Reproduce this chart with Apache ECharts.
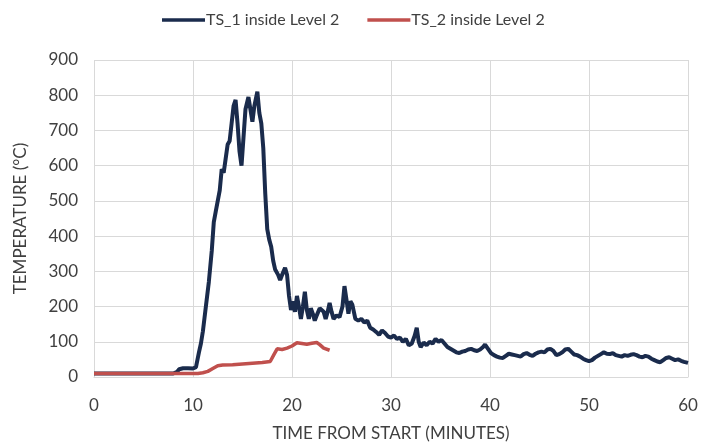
<!DOCTYPE html>
<html><head><meta charset="utf-8">
<script src="https://cdn.jsdelivr.net/npm/echarts@6/dist/echarts.min.js"></script>
<style>html,body{margin:0;padding:0;background:#fff}#c{width:703px;height:443px}</style>
</head><body><div id="c"></div>
<script>
const seriesNames = ["TS_1 inside Level 2", "TS_2 inside Level 2"];
const xTicks = [0, 10, 20, 30, 40, 50, 60];
const yTicks = [0, 100, 200, 300, 400, 500, 600, 700, 800, 900];

const ts1Time = [0,8.0,8.4,8.6,9.0,9.5,10.0,10.3,10.6,10.8,11.0,11.3,11.6,11.9,12.1,12.3,12.5,12.7,12.9,13.1,13.3,13.5,13.7,13.9,14.1,14.3,14.5,14.7,14.9,15.1,15.3,15.6,15.8,16.0,16.2,16.5,16.7,16.9,17.1,17.3,17.5,17.7,17.9,18.1,18.3,18.6,18.8,19.0,19.3,19.5,19.7,19.9,20.1,20.3,20.5,20.7,20.9,21.1,21.3,21.5,21.7,21.9,22.1,22.3,22.5,22.8,23.0,23.2,23.4,23.6,23.8,24.0,24.2,24.5,24.8,25.1,25.3,25.5,25.7,25.9,26.1,26.4,26.7,27.0,27.3,27.6,27.9,28.2,28.5,28.8,29.1,29.4,29.7,30.0,30.3,30.6,30.9,31.2,31.5,31.8,32.1,32.4,32.6,32.8,33.0,33.3,33.6,33.9,34.2,34.5,34.8,35.1,35.4,35.7,36.0,36.3,36.6,36.9,37.2,37.5,37.8,38.1,38.4,38.7,39.0,39.3,39.5,39.8,40.1,40.4,40.7,41.0,41.3,41.6,41.9,42.2,42.5,42.8,43.1,43.4,43.7,44.0,44.3,44.6,44.9,45.2,45.5,45.8,46.1,46.4,46.7,47.0,47.3,47.6,47.9,48.2,48.5,48.8,49.1,49.4,49.7,50.0,50.3,50.6,50.9,51.2,51.5,51.8,52.1,52.4,52.7,53.0,53.3,53.6,53.9,54.2,54.5,54.8,55.1,55.4,55.7,56.0,56.3,56.6,56.9,57.2,57.5,57.8,58.1,58.4,58.7,59.0,59.3,59.6,60.0];
const ts1Temp = [10,10,15,22,25,25,24,28,70,95,130,200,270,360,440,470,465,530,590,580,620,660,670,720,770,787,720,640,600,680,760,795,760,725,770,810,750,720,650,520,420,390,370,330,305,290,275,290,310,290,230,190,215,185,230,200,165,200,242,190,165,195,180,160,175,195,200,185,165,185,210,185,165,175,170,200,258,220,180,215,205,165,160,165,155,160,140,135,128,120,132,125,115,112,118,108,112,100,108,90,95,118,140,100,85,98,90,100,95,108,100,105,95,85,80,75,70,68,72,74,78,80,76,74,78,85,92,80,68,62,58,55,54,60,66,64,62,60,58,65,68,63,60,66,70,72,70,78,80,74,62,65,70,78,80,72,64,62,58,52,48,45,48,55,60,65,70,66,65,68,62,60,58,62,60,63,65,62,58,56,60,58,52,48,44,42,48,54,56,52,48,50,46,43,40];

const ts2Time = [0,10.5,11.0,11.5,12.0,12.5,13.0,14.0,15.0,16.0,17.0,17.8,18.2,18.5,19.0,19.5,20.0,20.5,21.0,21.5,22.0,22.5,22.8,23.2,23.8];
const ts2Temp = [10,10,12,16,24,32,34,35,37,39,41,44,65,80,78,82,88,97,95,93,96,98,92,82,76];

const pair = (t, v) => t.map((x, i) => [x, v[i]]);
const font = 'Lato';
const axisText = {color: '#404040', fontSize: 17, fontFamily: font};

const chart = echarts.init(document.getElementById('c'));
chart.setOption({
  animation: false,
  legend: {
    top: 7, left: 157, itemWidth: 43, itemHeight: 10, itemGap: 28,
    textStyle: {color: '#404040', fontSize: 16, fontFamily: font, padding: [0, 0, 0, -4]},
    data: seriesNames.map(n => ({name: n, icon: 'path://M0,3.2 L43,3.2 L43,6.8 L0,6.8 Z'}))
  },
  grid: {left: 94, right: 15, top: 60, bottom: 66, containLabel: false, outerBoundsMode: 'none'},
  xAxis: {
    type: 'value', min: xTicks[0], max: xTicks[xTicks.length - 1], interval: 10,
    name: 'TIME FROM START (MINUTES)', nameLocation: 'middle', nameGap: 48,
    nameTextStyle: {color: '#404040', fontSize: 17, fontFamily: font},
    axisLine: {show: true, lineStyle: {color: '#d9d9d9'}},
    axisTick: {show: false},
    axisLabel: Object.assign({margin: 20}, axisText),
    splitLine: {show: true, lineStyle: {color: '#d9d9d9', width: 1}}
  },
  yAxis: {
    type: 'value', min: yTicks[0], max: yTicks[yTicks.length - 1], interval: 100,
    name: 'TEMPERATURE (°C)', nameLocation: 'middle', nameGap: 65, nameRotate: 90,
    nameTextStyle: {color: '#404040', fontSize: 17, fontFamily: font},
    axisLine: {show: false},
    axisTick: {show: false},
    axisLabel: Object.assign({margin: 16}, axisText),
    splitLine: {show: true, lineStyle: {color: '#d9d9d9', width: 1}}
  },
  series: [
    {name: seriesNames[0], type: 'line', symbol: 'none', data: pair(ts1Time, ts1Temp),
     lineStyle: {color: '#1a2b4c', width: 4}, itemStyle: {color: '#1a2b4c'}, z: 2},
    {name: seriesNames[1], type: 'line', symbol: 'none', data: pair(ts2Time, ts2Temp),
     lineStyle: {color: '#c0504d', width: 3.5}, itemStyle: {color: '#c0504d'}, z: 3}
  ]
});
</script></body></html>
